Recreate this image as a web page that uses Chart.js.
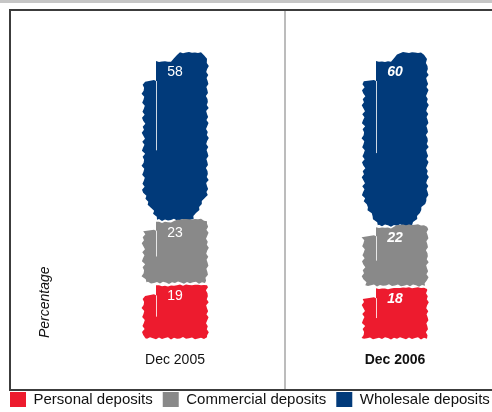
<!DOCTYPE html>
<html>
<head>
<meta charset="utf-8">
<script src="https://cdn.jsdelivr.net/npm/chart.js@4/dist/chart.umd.min.js"></script>
<style>
  html, body { margin: 0; padding: 0; background: #fff; overflow: hidden; }
  #wrap { position: relative; width: 520px; height: 412px; }
</style>
</head>
<body>
<div id="wrap"><canvas id="chart" width="520" height="412"></canvas></div>
<script>
// Funding mix, percentage of total deposits
const categories = ['Dec 2005', 'Dec 2006'];
const personalDeposits = [19, 18];
const commercialDeposits = [23, 22];
const wholesaleDeposits = [58, 60];
const seriesNames = ['Personal deposits', 'Commercial deposits', 'Wholesale deposits'];
const yAxisTitle = 'Percentage';

const FONT = '"Liberation Sans", Arial, Helvetica, sans-serif';
const COLORS = ['#ed1b2e', '#898989', '#013a7a'];

// Fixed roughness pattern used for the painted bar edges (pixels)
const ROUGH = [0, 1.6, -0.8, 2.2, 0.4, -1.4, 1.1, -0.3, 2.6, 0.2, -1.1, 1.8,
               -0.6, 0.9, 2.0, -0.9, 0.5, 1.4, -1.6, 0.7, 1.2, -0.4, 2.4, -1.2];

// Per-series brush shape: left strip drop, top bulge, bottom gap, bottom taper
const SHAPES = [
  { drop: 10, bulge: 1, gap: 0, taper: 0,  taperL: 0,  taperR: 0 },
  { drop: 9,  bulge: 3, gap: 3, taper: 6,  taperL: 3,  taperR: 2 },
  { drop: 20, bulge: 9, gap: 2, taper: 26, taperL: 14, taperR: 15 }
];

function inset(p, yy, bot, side) {
  if (!p.taper || yy <= bot - p.taper) return 0;
  const f = (yy - (bot - p.taper)) / p.taper;
  return f * (side === 'L' ? p.taperL : p.taperR);
}

function drawBrush(ctx, L, R, T, B, color, d, i) {
  const p = SHAPES[d];
  const seed = d * 7 + i * 11;
  const j = k => ROUGH[(k + seed) % ROUGH.length];
  const core = L + 13;
  const bot = B - p.gap;
  let k = 0;
  ctx.save();
  ctx.fillStyle = color;
  ctx.beginPath();
  ctx.moveTo(core, T);
  // top edge, rising toward the right
  for (let xx = core + 3; xx <= R; xx += 3, k++) {
    const t = (xx - core) / (R - core);
    let rise = 0;
    if (t > 0.3 && t <= 0.45) rise = p.bulge * (t - 0.3) / 0.15;
    else if (t > 0.45 && t <= 0.9) rise = p.bulge;
    else if (t > 0.9) rise = p.bulge * (1 - (t - 0.9) / 0.1 * 0.7);
    ctx.lineTo(xx, T - rise + Math.abs(j(k)) * 0.5);
  }
  // right edge
  for (let yy = T + 2; yy <= bot; yy += 3, k++) {
    ctx.lineTo(R - inset(p, yy, bot, 'R') + j(k) * 0.7, yy);
  }
  // bottom edge
  const bR = R - inset(p, bot, bot, 'R');
  const bL = L + inset(p, bot, bot, 'L');
  for (let xx = bR; xx >= bL; xx -= 3, k++) {
    ctx.lineTo(xx, bot + j(k) * 0.6);
  }
  // left brush strip
  for (let yy = bot; yy >= T + p.drop; yy -= 3, k++) {
    ctx.lineTo(L + inset(p, yy, bot, 'L') + j(k) * 0.9, yy);
  }
  ctx.lineTo(core - 2, T + p.drop - 1);
  ctx.lineTo(core, T + p.drop);
  ctx.closePath();
  ctx.fill();
  // thin streak where the strip meets the main stroke
  ctx.strokeStyle = 'rgba(255,255,255,0.8)';
  ctx.lineWidth = 1;
  ctx.beginPath();
  ctx.moveTo(core + 0.5, T + p.drop);
  ctx.lineTo(core + 0.5, T + p.drop + (bot - T - p.drop) * 0.5);
  ctx.stroke();
  ctx.restore();
}

const brushBars = {
  id: 'brushBars',
  beforeDatasetDraw(chart, args) {
    const ctx = chart.ctx;
    const ds = chart.data.datasets[args.index];
    args.meta.data.forEach((bar, i) => {
      const { x, y, base, width } = bar.getProps(['x', 'y', 'base', 'width'], true);
      drawBrush(ctx, x - width / 2, x + width / 2, y, base, ds.backgroundColor, args.index, i);
    });
    return false;
  },
  afterDatasetsDraw(chart) {
    const ctx = chart.ctx;
    ctx.save();
    ctx.fillStyle = '#ffffff';
    ctx.textAlign = 'center';
    ctx.textBaseline = 'middle';
    chart.data.datasets.forEach((ds, d) => {
      chart.getDatasetMeta(d).data.forEach((bar, i) => {
        ctx.font = (i === 1 ? 'italic bold ' : '') + '14px ' + FONT;
        ctx.fillText(String(ds.data[i]), bar.x, bar.y + 11);
      });
    });
    ctx.restore();
  }
};

const panelFrame = {
  id: 'panelFrame',
  beforeDraw(chart) {
    const ctx = chart.ctx;
    const w = chart.width;
    const xs = chart.scales.x;
    const mid = (xs.getPixelForValue(0) + xs.getPixelForValue(1)) / 2;
    ctx.save();
    ctx.fillStyle = '#ffffff';
    ctx.fillRect(0, 0, w, chart.height);
    ctx.fillStyle = '#c6c6c6';
    ctx.fillRect(0, 0, w, 3);
    ctx.strokeStyle = '#bcbcbc';
    ctx.lineWidth = 2;
    ctx.beginPath();
    ctx.moveTo(Math.round(mid), 10);
    ctx.lineTo(Math.round(mid), 390);
    ctx.stroke();
    ctx.strokeStyle = '#3c3c3c';
    ctx.lineWidth = 2;
    ctx.beginPath();
    ctx.moveTo(w, 10);
    ctx.lineTo(10, 10);
    ctx.lineTo(10, 390);
    ctx.lineTo(w, 390);
    ctx.stroke();
    ctx.restore();
  }
};

Chart.defaults.font.family = FONT;

new Chart(document.getElementById('chart'), {
  type: 'bar',
  data: {
    labels: categories,
    datasets: [
      { label: seriesNames[0], data: personalDeposits, backgroundColor: COLORS[0], borderWidth: 0 },
      { label: seriesNames[1], data: commercialDeposits, backgroundColor: COLORS[1], borderWidth: 0 },
      { label: seriesNames[2], data: wholesaleDeposits, backgroundColor: COLORS[2], borderWidth: 0 }
    ]
  },
  options: {
    responsive: false,
    animation: false,
    barThickness: 64,
    layout: { padding: { top: 61, left: 0, right: 15, bottom: -5 } },
    plugins: {
      legend: {
        position: 'bottom',
        align: 'start',
        labels: {
          boxWidth: 16,
          boxHeight: 15,
          padding: 10,
          color: '#111',
          font: { family: FONT, size: 15 }
        }
      },
      tooltip: { enabled: false }
    },
    scales: {
      x: {
        stacked: true,
        offset: true,
        grid: { display: false, drawTicks: false },
        border: { display: false },
        ticks: {
          padding: 14,
          color: '#111',
          font: ctx => ({ family: FONT, size: 14, weight: ctx.index === 1 ? 'bold' : 'normal' })
        },
        afterFit: scale => { scale.height = 44; }
      },
      y: {
        stacked: true,
        min: 0,
        max: 100,
        grid: { display: false, drawTicks: false },
        border: { display: false },
        ticks: { display: false },
        title: {
          display: true,
          text: yAxisTitle,
          align: 'start',
          color: '#111',
          font: { family: FONT, size: 14, style: 'italic' },
          padding: { top: 36.6, bottom: 11.6 }
        }
      }
    }
  },
  plugins: [panelFrame, brushBars]
});
</script>
</body>
</html>
